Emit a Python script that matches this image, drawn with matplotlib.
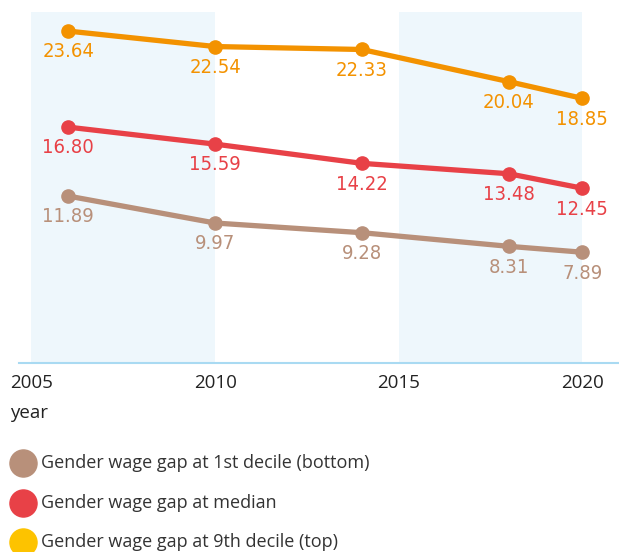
import matplotlib
matplotlib.use("Agg")
import matplotlib.pyplot as plt
from matplotlib.lines import Line2D

years = [2006, 2010, 2014, 2018, 2020]
bottom_decile = [11.89, 9.97, 9.28, 8.31, 7.89]
median = [16.80, 15.59, 14.22, 13.48, 12.45]
top_decile = [23.64, 22.54, 22.33, 20.04, 18.85]
series_names = ["Gender wage gap at 1st decile (bottom)",
                "Gender wage gap at median",
                "Gender wage gap at 9th decile (top)"]
xticks = [2005, 2010, 2015, 2020]
bands = [(2005, 2010), (2015, 2020)]

line_colors = ["#B8907A", "#E84147", "#F39200"]
legend_colors = ["#B8907A", "#E84147", "#FDC300"]

label_font = ["DejaVu Sans"]
tick_font = ["Open Sans", "DejaVu Sans"]

W, H = 619, 552
fig = plt.figure(figsize=(W / 100, H / 100), dpi=100)
ax = fig.add_axes([19 / W, 1 - 363 / H, 600 / W, (363 - 12) / H])
ax.set_xlim(2004.66, 2021.0)
ax.set_ylim(0, 25)

for x0, x1 in bands:
    ax.axvspan(x0, x1, ymin=0, ymax=1, color="#EEF7FC", lw=0, zorder=0)

for vals, c in zip([bottom_decile, median, top_decile], line_colors):
    ax.plot(years, vals, color=c, lw=3.8, marker="o", ms=9.5, zorder=3,
            solid_capstyle="round")
    for xv, yv in zip(years, vals):
        ax.annotate(f"{yv:.2f}", (xv, yv), xytext=(0, -15),
                    textcoords="offset points", ha="center", va="center",
                    color=c, fontsize=14.5, family=label_font,
                    fontstretch="condensed", zorder=4)

for s in ["top", "right", "left"]:
    ax.spines[s].set_visible(False)
ax.spines["bottom"].set_color("#A9DAF2")
ax.spines["bottom"].set_linewidth(1.5)
ax.set_yticks([])
ax.set_xticks(xticks)
ax.set_xticklabels([str(t) for t in xticks], family=tick_font, fontsize=13.5,
                   color="#222222")
ax.tick_params(axis="x", length=0, pad=8)

fig.text(10 / W, 1 - 413 / H, "year", ha="left", va="center",
         family=tick_font, fontsize=13.5, color="#222222")

leg_y = [463, 503, 542]
for yy, c, name in zip(leg_y, legend_colors, series_names):
    fig.add_artist(Line2D([23 / W], [1 - yy / H], transform=fig.transFigure,
                          marker="o", ms=19.5, color=c, lw=0))
    fig.text(41 / W, 1 - yy / H, name, ha="left", va="center",
             family=tick_font, fontsize=13, color="#333333")

fig.savefig("out.png", dpi=100)
